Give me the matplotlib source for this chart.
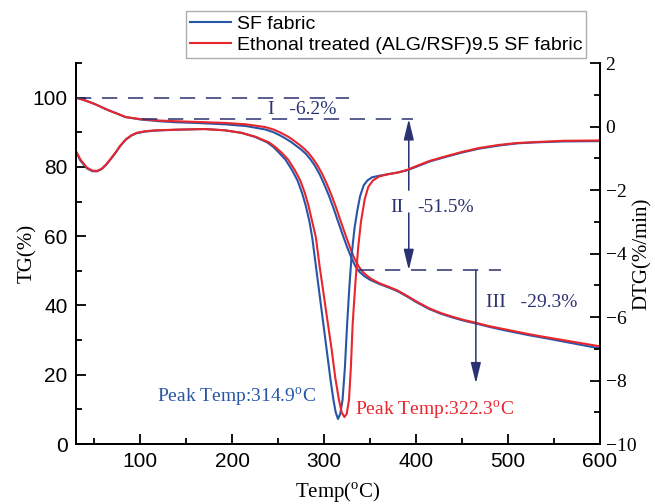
"""TG / DTG curves of SF fabric vs ethanol treated (ALG/RSF)9.5 SF fabric."""

import matplotlib
matplotlib.use("Agg")
import matplotlib.pyplot as plt
from matplotlib.ticker import MultipleLocator

plt.rcParams['mathtext.fontset'] = 'custom'
plt.rcParams['mathtext.rm'] = 'Liberation Serif'

SANS = 'Liberation Sans'
SERIF = 'Liberation Serif'

BLUE = '#2756a6'
RED = '#e8262d'
NAVY = '#2b3272'

labels = ['SF fabric', 'Ethonal treated (ALG/RSF)9.5 SF fabric']

# TG curves (%)
tg_sf_temp = [30, 40, 50, 65, 84, 100, 120, 138, 160, 192, 215, 236, 245, 252, 258,
              264, 270, 275, 280, 285, 290, 295, 300, 305, 310, 315, 320, 325, 330,
              334, 338, 344, 350, 360, 370, 380, 390, 400, 414, 427, 440, 452, 465,
              480, 495, 510, 523, 540, 560, 580, 600]
tg_sf = [100, 99.2, 98.2, 96.4, 94.4, 93.7, 93.2, 92.9, 92.7, 92.3, 91.8, 90.8, 90.0,
         89.1, 88.2, 87.2, 86.0, 85.0, 83.8, 82.2, 80.3, 77.9, 75.0, 71.8, 68.2, 64.3,
         60.5, 56.8, 53.5, 51.3, 49.8, 48.4, 47.4, 46.2, 45.2, 44.1, 42.6, 41.0, 39.0,
         37.6, 36.5, 35.6, 34.8, 33.8, 32.9, 32.1, 31.4, 30.6, 29.6, 28.6, 27.6]

tg_eth_temp = [30, 40, 50, 65, 84, 100, 120, 138, 160, 192, 215, 236, 246, 254, 261,
               267, 273, 278, 283, 288, 293, 298, 303, 308, 313, 318, 323, 328, 333,
               337, 341, 346, 351, 360, 370, 380, 390, 400, 414, 427, 440, 452, 465,
               480, 495, 510, 523, 540, 560, 580, 600]
tg_eth = [100, 99.2, 98.2, 96.4, 94.4, 93.8, 93.4, 93.2, 93.0, 92.7, 92.3, 91.5, 90.7,
          89.7, 88.7, 87.6, 86.4, 85.3, 84.0, 82.3, 80.3, 77.9, 75.0, 71.8, 68.2, 64.3,
          60.5, 56.8, 53.5, 51.5, 50.0, 48.7, 47.7, 46.4, 45.4, 44.3, 42.8, 41.2, 39.2,
          37.8, 36.7, 35.8, 35.0, 34.0, 33.2, 32.4, 31.7, 30.9, 30.0, 29.1, 28.2]

# DTG curves (%/min)
dtg_sf_temp = [30, 35, 42, 48, 53, 58, 63, 68, 73, 78, 84, 90, 96, 105, 116, 140, 170,
               192, 210, 225, 238, 245, 251, 258, 265, 271, 276, 280, 284, 287, 291, 295,
               299, 303, 307, 310, 312.5, 315, 317.5, 320, 322.5, 325, 327.5, 330, 333,
               336, 339, 343, 347, 352, 360, 370, 380, 390, 400, 415, 432, 450, 468,
               490, 510, 530, 560, 600]
dtg_sf = [-0.80, -1.08, -1.32, -1.41, -1.41, -1.34, -1.20, -1.02, -0.83, -0.62, -0.42,
          -0.29, -0.21, -0.16, -0.13, -0.10, -0.08, -0.12, -0.20, -0.33, -0.50, -0.65,
          -0.83, -1.05, -1.37, -1.70, -2.10, -2.50, -3.00, -3.50, -4.40, -5.30, -6.20,
          -7.10, -8.00, -8.60, -9.00, -9.21, -9.05, -8.60, -7.60, -6.20, -5.00, -4.00,
          -3.20, -2.65, -2.20, -1.85, -1.70, -1.60, -1.55, -1.50, -1.45, -1.38, -1.27,
          -1.10, -0.96, -0.82, -0.70, -0.60, -0.53, -0.50, -0.47, -0.46]

dtg_eth_temp = [30, 35, 42, 48, 53, 58, 63, 68, 73, 78, 84, 90, 96, 105, 116, 140, 170,
                192, 210, 225, 240, 247, 254, 261, 268, 274, 279, 283, 287, 291, 295,
                299, 303, 308, 312, 316, 319, 322, 324.5, 327, 329, 331, 334, 337, 340,
                344, 348, 353, 360, 370, 380, 390, 400, 415, 432, 450, 468, 490, 510,
                530, 560, 600]
dtg_eth = [-0.77, -1.05, -1.30, -1.39, -1.40, -1.33, -1.19, -1.01, -0.82, -0.61, -0.41,
           -0.28, -0.20, -0.15, -0.12, -0.10, -0.08, -0.12, -0.20, -0.32, -0.50, -0.65,
           -0.83, -1.05, -1.37, -1.70, -2.10, -2.50, -3.00, -3.50, -4.40, -5.20, -6.00,
           -7.00, -7.90, -8.60, -9.00, -9.15, -9.05, -8.60, -7.60, -6.20, -4.90, -3.80,
           -3.00, -2.30, -1.90, -1.70, -1.57, -1.50, -1.45, -1.37, -1.25, -1.08, -0.94,
           -0.80, -0.68, -0.58, -0.52, -0.49, -0.45, -0.44]

fig = plt.figure(figsize=(6.55, 5.04), dpi=100)
ax = fig.add_axes([0.116, 0.119, 0.800, 0.756])
ax2 = ax.twinx()

# TG on the left axis, DTG on the right axis
ax.plot(tg_sf_temp, tg_sf, color=BLUE, lw=1.5)
ax.plot(tg_eth_temp, tg_eth, color=RED, lw=1.5)
l1, = ax2.plot(dtg_sf_temp, dtg_sf, color=BLUE, lw=1.5)
l2, = ax2.plot(dtg_eth_temp, dtg_eth, color=RED, lw=1.5)

ax.set_xlim(30, 600)
ax.set_ylim(0, 110)
ax2.set_ylim(-10, 2)

ax.xaxis.set_major_locator(MultipleLocator(100))
ax.xaxis.set_minor_locator(MultipleLocator(50))
ax.yaxis.set_major_locator(MultipleLocator(20))
ax.yaxis.set_minor_locator(MultipleLocator(10))
ax2.yaxis.set_major_locator(MultipleLocator(2))
ax2.yaxis.set_minor_locator(MultipleLocator(1))

for a in (ax, ax2):
    a.spines['top'].set_visible(False)
    for s in a.spines.values():
        s.set_linewidth(1.3)
    a.tick_params(which='major', direction='in', length=7, width=1.3)
    a.tick_params(which='minor', direction='in', length=4, width=1.3)
ax.tick_params(axis='both', labelsize=15, pad=6)
for lab in ax.get_xticklabels() + ax.get_yticklabels():
    lab.set_fontfamily(SANS)
ax2.tick_params(axis='y', labelsize=14, pad=4)
for lab in ax2.get_yticklabels():
    lab.set_fontfamily(SERIF)

ax.set_xlabel('Temp($^{\\rm o}$C)', fontsize=15, family=SERIF)
ax.set_ylabel('TG(%)', fontsize=15, family=SERIF)
ax2.set_ylabel('DTG(%/min)', fontsize=15, family=SERIF)
ax.xaxis.set_label_coords(0.5, -0.095)
ax.yaxis.set_label_coords(-0.074, 0.5)
ax2.yaxis.set_label_coords(1.063, 0.5)

# step annotations
dash = (0, (10, 7))
ax.plot([30, 327], [100, 100], color=NAVY, lw=1.1, linestyle=dash)
ax.plot([102, 397], [93.8, 93.8], color=NAVY, lw=1.1, linestyle=dash)
ax.plot([338, 492], [50.2, 50.2], color=NAVY, lw=1.1, linestyle=dash)

head = dict(arrowstyle='-|>,head_length=0.9,head_width=0.22', color=NAVY, lw=1.1,
            mutation_scale=14, shrinkA=0, shrinkB=0)
ax.annotate('', xy=(392, 93.8), xytext=(392, 73.3), arrowprops=head)
ax.annotate('', xy=(392, 50.2), xytext=(392, 66.7), arrowprops=head)
ax.annotate('', xy=(465, 17.5), xytext=(465, 50.2), arrowprops=head)

tkw = dict(fontsize=14, family=SERIF, color=NAVY, va='center')
ax.text(239, 96.5, 'I   -6.2%', ha='left', **tkw)
ax.text(386, 68.2, 'II', ha='right', **tkw)
ax.text(401, 68.2, '-51.5%', ha='left', **tkw)
ax.text(476, 41.0, 'III   -29.3%', ha='left', **tkw)

ax.text(118, 13.6, 'Peak Temp:314.9$^{\\rm o}$C', fontsize=14, family=SERIF,
        color=BLUE, ha='left', va='center')
ax.text(333, 9.6, 'Peak Temp:322.3$^{\\rm o}$C', fontsize=14, family=SERIF,
        color=RED, ha='left', va='center')

leg = fig.legend([l1, l2], labels, loc='upper left', bbox_to_anchor=(0.284, 0.978),
                 prop={'family': SANS, 'size': 14}, frameon=True, fancybox=False,
                 handlelength=2.1, handletextpad=0.3, borderpad=0.2,
                 labelspacing=0.18, borderaxespad=0)
leg.get_frame().set_edgecolor('#999999')
leg.get_frame().set_linewidth(1.0)

fig.savefig('out.png', dpi=100)
